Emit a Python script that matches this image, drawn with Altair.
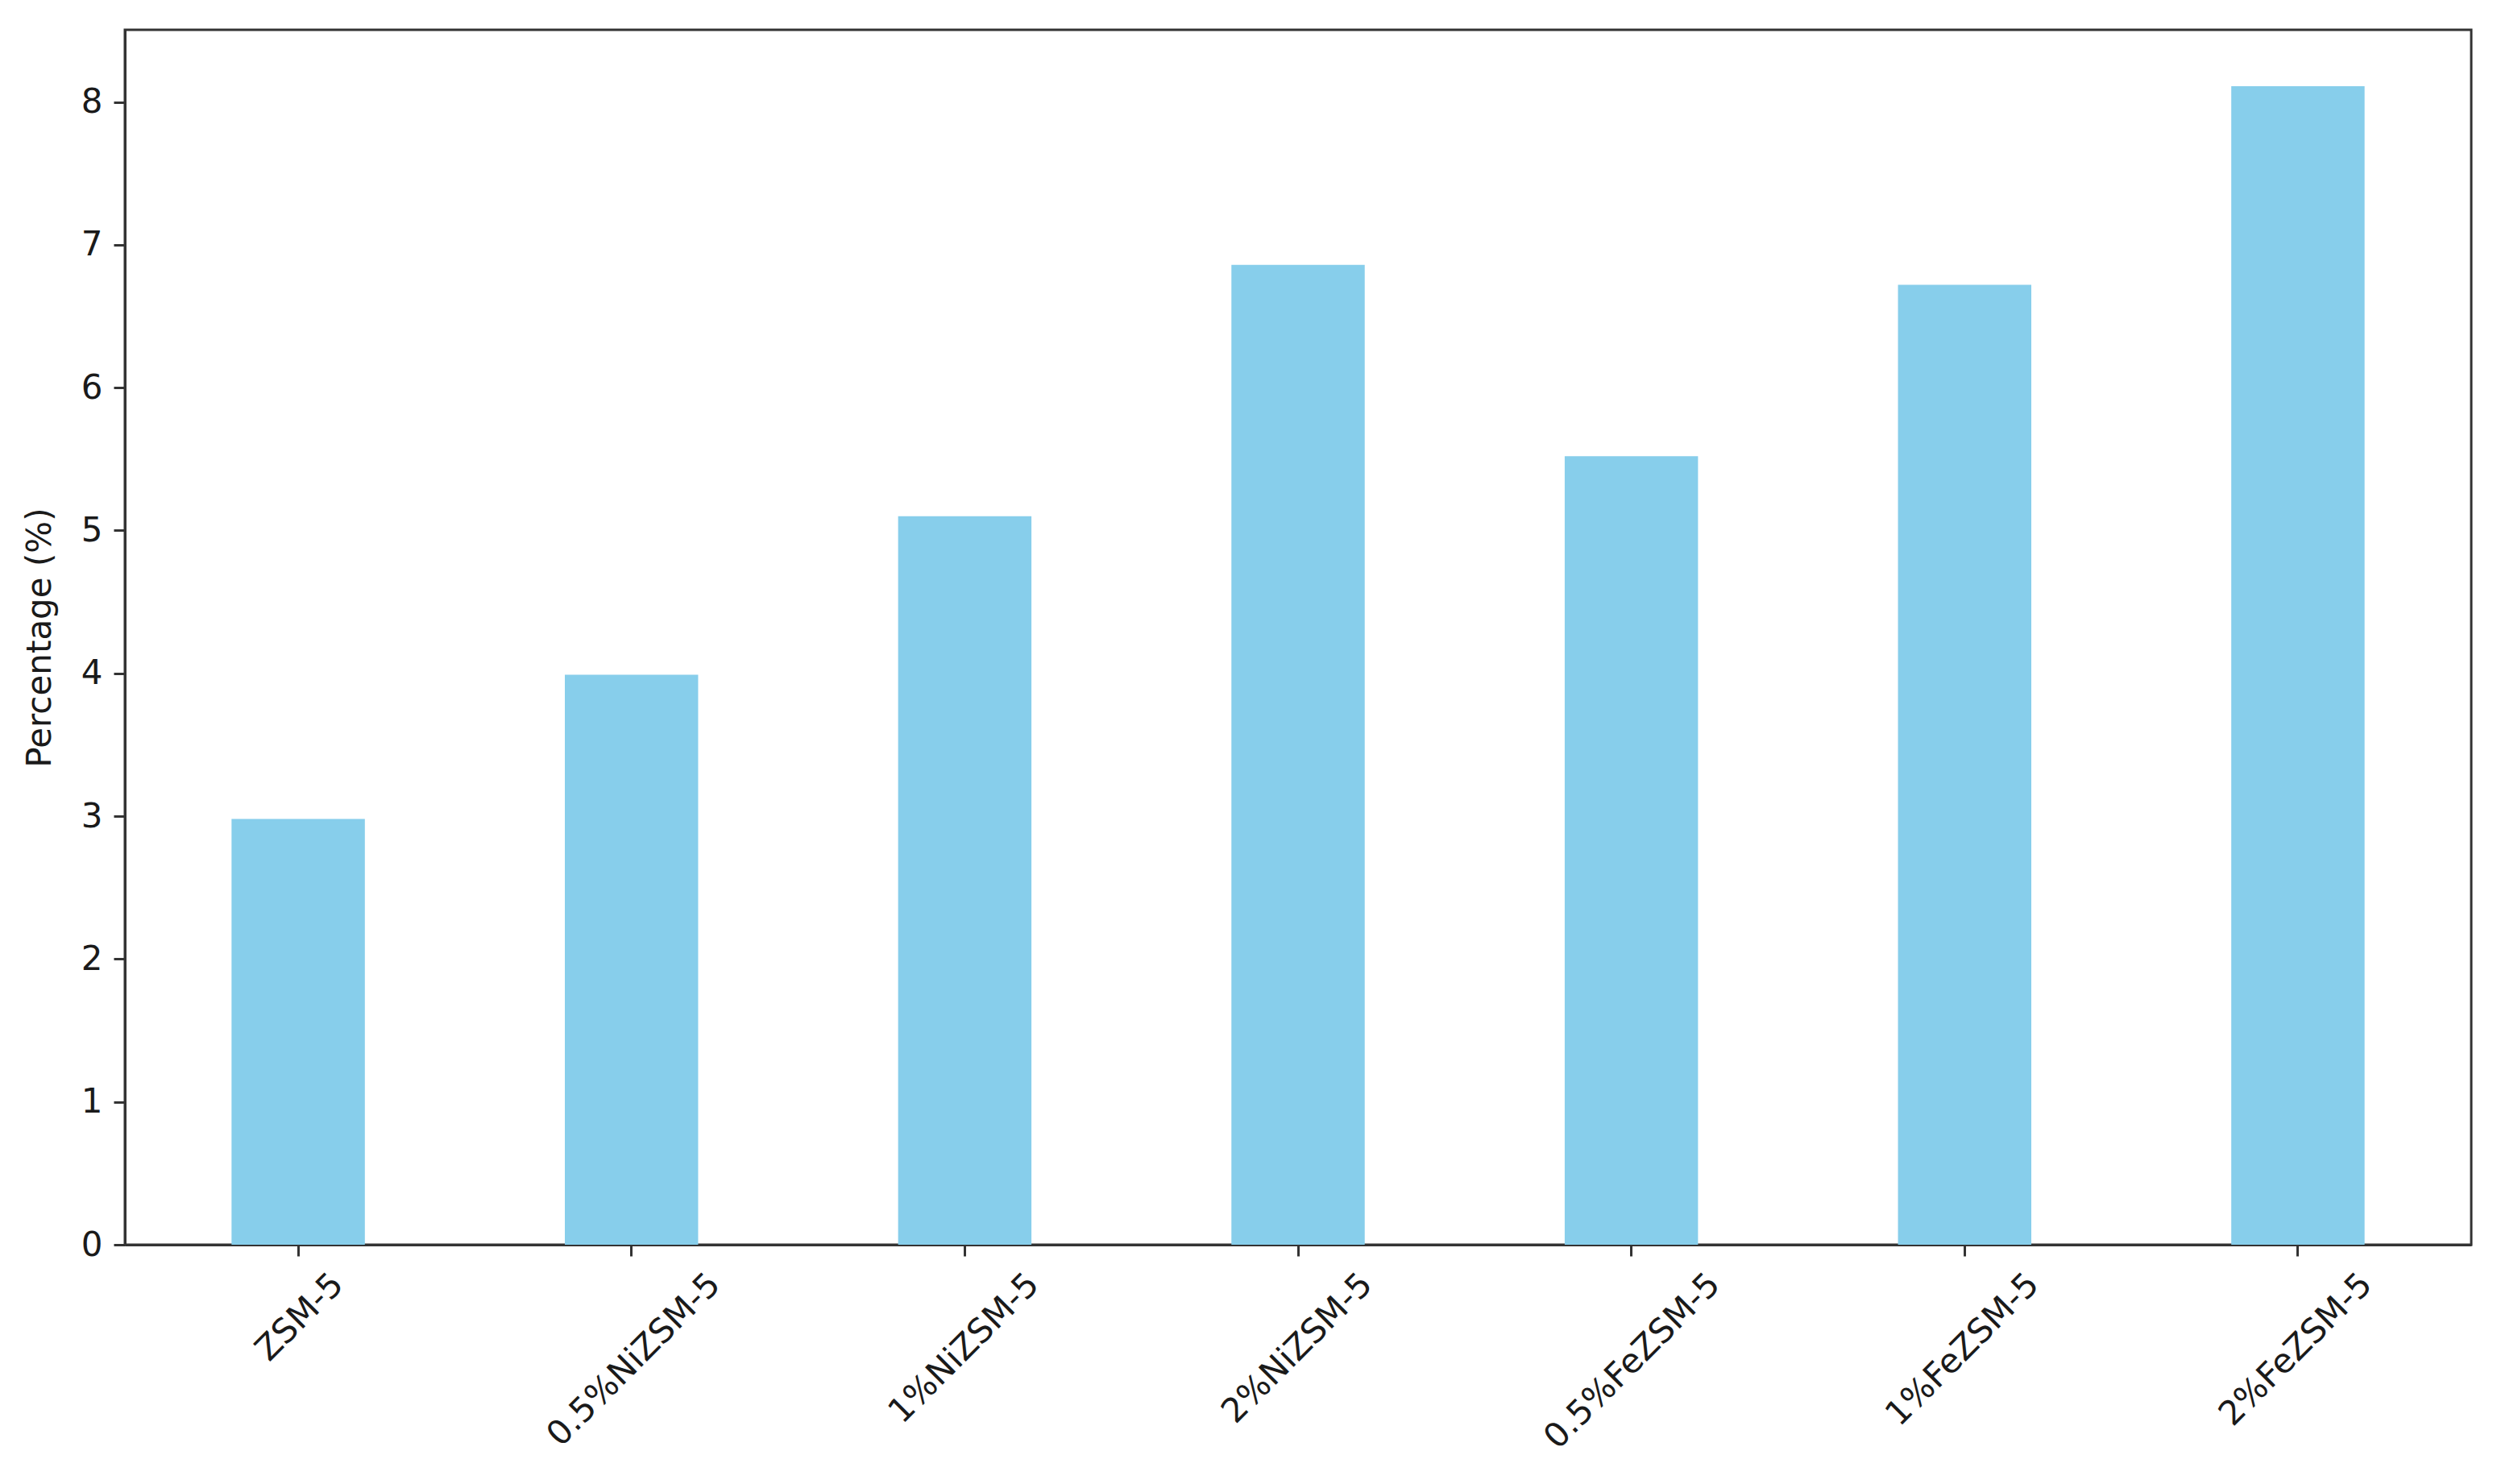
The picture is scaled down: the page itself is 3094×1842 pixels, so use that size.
import altair as alt
import pandas as pd

categories = ["ZSM-5", "0.5%NiZSM-5", "1%NiZSM-5", "2%NiZSM-5",
              "0.5%FeZSM-5", "1%FeZSM-5", "2%FeZSM-5"]
percentages = [2.98, 3.99, 5.10, 6.86, 5.52, 6.72, 8.11]
y_ticks = [0, 1, 2, 3, 4, 5, 6, 7, 8]

df = pd.DataFrame({"Catalyst": categories, "Percentage": percentages})

FONT = "DejaVu Sans"
AXIS_COLOR = "#333333"
TEXT_COLOR = "#1a1a1a"

chart = (
    alt.Chart(df)
    .mark_bar(color="#87CEEB")
    .encode(
        x=alt.X(
            "Catalyst:N",
            sort=categories,
            scale=alt.Scale(paddingInner=0.6, paddingOuter=0.32),
            axis=alt.Axis(
                title=None,
                labelAngle=-45,
                labelAlign="right",
                labelBaseline="top",
                labelOffset={"expr": "length(datum.label) * 9 - 10"},
                labelPadding=14,
                labelFont=FONT,
                labelFontSize=42,
                labelColor=TEXT_COLOR,
                labelLimit=0,
                tickSize=14,
                tickWidth=3,
                tickColor=AXIS_COLOR,
                domainColor=AXIS_COLOR,
                domainWidth=3,
                grid=False,
            ),
        ),
        y=alt.Y(
            "Percentage:Q",
            scale=alt.Scale(domain=[0, 8.505], nice=False, zero=True),
            axis=alt.Axis(
                title="Percentage (%)",
                values=y_ticks,
                format="d",
                labelFont=FONT,
                labelFontSize=42,
                labelColor=TEXT_COLOR,
                labelPadding=14,
                tickSize=14,
                tickWidth=3,
                tickColor=AXIS_COLOR,
                domainColor=AXIS_COLOR,
                domainWidth=3,
                titleFont=FONT,
                titleFontSize=42,
                titleFontWeight="normal",
                titleColor=TEXT_COLOR,
                titleAngle=270,
                titleAlign="center",
                titleBaseline="bottom",
                titleX=-84,
                titleY=754,
                grid=False,
            ),
        ),
    )
    .properties(
        width=2912,
        height=1508,
        autosize=alt.AutoSizeParams(type="none"),
        padding={"left": 147, "top": 29, "right": 19, "bottom": 280},
    )
    .configure_view(stroke=AXIS_COLOR, strokeWidth=3)
)

chart.save("out.html", embed_options={"renderer": "svg", "actions": False})
